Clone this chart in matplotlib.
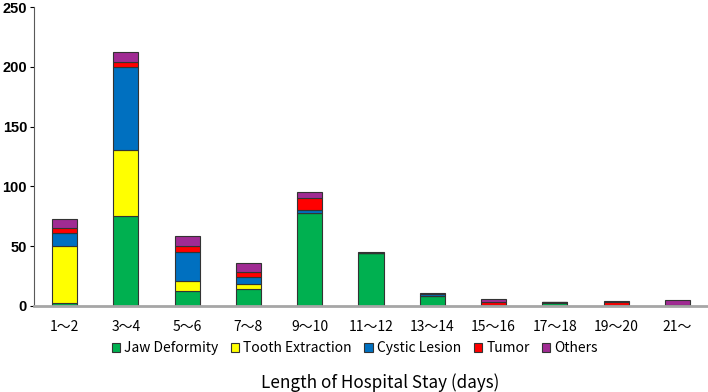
import numpy as np
import matplotlib.pyplot as plt

plt.rcParams['font.family'] = ['Noto Sans CJK JP', 'DejaVu Sans']

categories = ['1～2', '3～4', '5～6', '7～8', '9～10', '11～12',
              '13～14', '15～16', '17～18', '19～20', '21～']
jaw = [2, 75, 12, 14, 78, 44, 8, 1, 2, 0, 0]
tooth = [48, 55, 9, 4, 0, 0, 0, 0, 1, 0, 0]
cystic = [11, 70, 24, 6, 2, 0, 2, 0, 0, 1, 0]
tumor = [4, 4, 5, 4, 10, 0, 0, 2, 0, 2, 1]
others = [8, 8, 8, 8, 5, 1, 1, 3, 0, 1, 4]

series = [('Jaw Deformity', jaw, '#00B050'),
          ('Tooth Extraction', tooth, '#FFFF00'),
          ('Cystic Lesion', cystic, '#0070C0'),
          ('Tumor', tumor, '#FF0000'),
          ('Others', others, '#A02B93')]

fig = plt.figure(figsize=(7.08, 3.92), dpi=100)
ax = fig.add_axes([0.048, 0.22, 0.952, 0.762])

x = np.arange(len(categories))
bottom = np.zeros(len(categories))
for name, vals, color in series:
    vals = np.array(vals, dtype=float)
    ax.bar(x, vals, width=0.41, bottom=bottom, color=color, label=name,
           edgecolor='#333333', linewidth=0.8)
    bottom += vals

ax.set_xlim(-0.5, len(categories) - 0.5)
ax.set_ylim(0, 250)
ax.set_yticks([0, 50, 100, 150, 200, 250])
ax.set_xticks(x)
ax.set_xticklabels(categories, fontsize=10)
ax.tick_params(axis='x', length=0, pad=10)
ax.tick_params(axis='y', direction='out', length=3, width=0.8, pad=2)
for lab in ax.get_yticklabels():
    lab.set_fontfamily('Liberation Sans')
    lab.set_fontweight('bold')
    lab.set_fontsize(10.5)

ax.spines['top'].set_visible(False)
ax.spines['right'].set_visible(False)
ax.spines['bottom'].set_color('#a6a6a6')
ax.spines['bottom'].set_linewidth(2)
ax.spines['left'].set_color('#595959')
ax.spines['left'].set_linewidth(0.8)

ax.legend(loc='center', bbox_to_anchor=(0.476, -0.143), ncol=5,
          frameon=False, fontsize=10, handlelength=0.6, handleheight=0.6,
          handletextpad=0.3, columnspacing=0.9)

fig.text(0.537, 0.023, 'Length of Hospital Stay (days)', ha='center',
         va='center', fontsize=12.3)

fig.savefig('out.png', dpi=100)
